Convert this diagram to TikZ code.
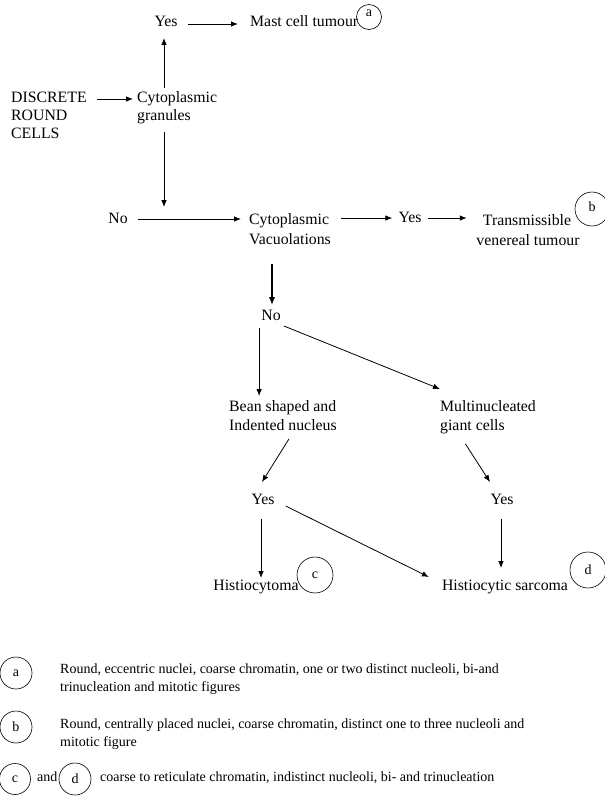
\documentclass[tikz,border=0pt]{standalone}
\usepackage{fontspec}
\setmainfont{Liberation Serif}
\usetikzlibrary{arrows.meta,calc}
\begin{document}
\begin{tikzpicture}[x=1pt,y=-1pt,
  txt/.style={inner sep=0pt, text height=10.5pt, text depth=3pt, font=\fontsize{15.8}{18}\selectfont},
  leg/.style={inner sep=0pt, anchor=west, text height=10pt, text depth=3pt, font=\fontsize{14}{17}\selectfont},
  lcirc/.style={draw, circle, inner sep=0pt, line width=0.6pt, font=\fontsize{14}{17}\selectfont},
  arr/.style={-{Latex[length=7pt,width=5.5pt]}, line width=0.8pt},
  heavyarr/.style={-{Latex[length=8pt,width=6.5pt]}, line width=1.6pt}]
\useasboundingbox (0,0) rectangle (605,804);

% top row
\node[txt] (yesA) at (166,23) {Yes};
\node[txt,anchor=west] (mast) at (250,23) {Mast cell tumour};
\node[lcirc,minimum size=25pt] (circA) at (369,17) {\raisebox{8pt}{a}};
\node[txt,anchor=west] (disc1) at (11,99) {DISCRETE};
\node[txt,anchor=west] (disc2) at (11,117) {ROUND};
\node[txt,anchor=west] (disc3) at (11,135) {CELLS};
\node[txt,anchor=west] (cytoG) at (137,99) {Cytoplasmic};
\node[txt,anchor=west] (cytoG2) at (137,117) {granules};

% second row
\node[txt] (noA) at (118,220) {No};
\node[txt,anchor=west] (cytoV) at (249,221) {Cytoplasmic};
\node[txt,anchor=west] (cytoV2) at (249,241) {Vacuolations};
\node[txt] (yesB) at (410,219) {Yes};
\node[txt] (tvt) at (527,222) {Transmissible};
\node[txt] (tvt2) at (528,242) {venereal tumour};
\node[lcirc,minimum size=34pt] (circB) at (592,209) {\raisebox{5pt}{b}};

% third row
\node[txt] (noB) at (271,317) {No};
\node[txt,anchor=west] (bean) at (229,408) {Bean shaped and};
\node[txt,anchor=west] (bean2) at (229,427) {Indented nucleus};
\node[txt,anchor=west] (multi) at (440,408) {Multinucleated};
\node[txt,anchor=west] (multi2) at (440,427) {giant cells};
\node[txt] (yesC) at (263,501) {Yes};
\node[txt] (yesD) at (502,501) {Yes};
\node[txt] (histio) at (256,587) {Histiocytoma};
\node[txt] (sarc) at (505,587) {Histiocytic sarcoma};
\node[lcirc,minimum size=36pt] (circC) at (315,575) {c};
\node[lcirc,minimum size=36pt] (circD) at (588,570) {d};

% connectors
\draw[arr] ($(yesA.east)+(10,1)$) -- ($(mast.west)+(-12,1)$);
\draw[arr] ($(disc1.east)+(10,0)$) -- ($(cytoG.west)+(-4,0)$);
\draw[arr] ($(cytoG.north -| yesA)+(-2,-4)$) -- ($(yesA.south)+(-2,8)$);
\draw[arr] ($(cytoG2.south -| yesA)+(-2,8)$) -- ($(yesA |- noA.north)+(-2,-6)$);
\draw[arr] ($(noA.east)+(10,-1)$) -- ($(cytoV.west)+(-8,-2)$);
\draw[arr] ($(cytoV.east)+(12,-3)$) -- ($(yesB.west)+(-6,-1)$);
\draw[arr] ($(yesB.east)+(6,-1)$) -- ($(tvt.west)+(-16,-4)$);
\draw[heavyarr] ($(cytoV2.south -| noB)+(1,16)$) -- ($(noB.north)+(1,-5)$);
\draw[arr] ($(noB.south west)+(-2,4)$) -- ($(noB.south west |- bean.north)+(-2,-5)$);
\draw[arr] ($(noB.south east)+(3,2)$) -- ($(multi.north west)+(0,-12)$);
\draw[arr] ($(bean2.south)+(6,5)$) -- ($(yesC.north)+(-1,-12)$);
\draw[arr] ($(multi2.south)+(-7,10)$) -- ($(yesD.north)+(-12,-12)$);
\draw[arr] ($(yesC.south)+(-2,11)$) -- ($(yesC.south |- histio.north)+(-2,-2)$);
\draw[arr] ($(yesC.east)+(11,5)$) -- ($(sarc.west)+(-13,-10)$);
\draw[arr] ($(yesD.south)+(-1,11)$) -- ($(yesD.south |- sarc.north)+(-1,-12)$);

% legend
\node[lcirc,minimum size=32pt] (la) at (16,673) {a};
\node[leg] (la1) at (60,670) {Round, eccentric nuclei, coarse chromatin, one or two distinct nucleoli, bi-and};
\node[leg] (la2) at (60,688) {trinucleation and mitotic figures};
\node[lcirc,minimum size=32pt] (lb) at (16,727) {b};
\node[leg] (lb1) at (60,725) {Round, centrally placed nuclei, coarse chromatin, distinct one to three nucleoli and};
\node[leg] (lb2) at (60,743) {mitotic figure};
\node[lcirc,minimum size=31pt] (lc) at (15,779) {c};
\node[leg] (land) at (37,778) {and};
\node[lcirc,minimum size=32pt] (ld) at (75,779) {d};
\node[leg] (lcd) at (100,778) {coarse to reticulate chromatin, indistinct nucleoli, bi- and trinucleation};
\end{tikzpicture}
\end{document}
